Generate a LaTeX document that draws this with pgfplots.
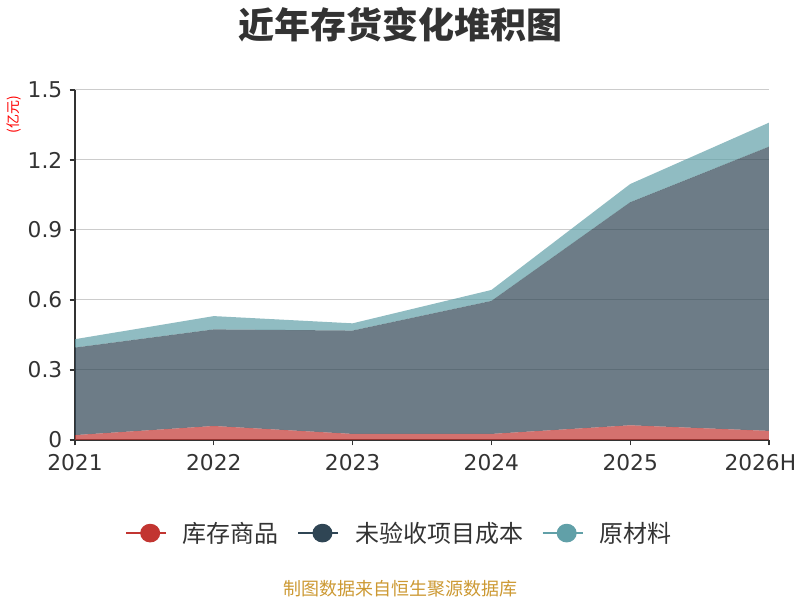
\documentclass[border=0pt]{standalone}
\usepackage{pgfplots}
\pgfplotsset{compat=1.18}
\usepackage{fontspec}
\setmainfont{Noto Sans CJK SC}
\newfontfamily\tickfont{DejaVu Sans}
\definecolor{c1}{HTML}{C23531}
\definecolor{c2}{HTML}{2F4554}
\definecolor{c3}{HTML}{61A0A8}
\definecolor{txt}{HTML}{333333}
\definecolor{foot}{HTML}{CC9933}
\begin{document}
\begin{tikzpicture}
\path[use as bounding box] (0pt,0pt) rectangle (600pt,450pt);
\begin{axis}[
  at={(56.25pt,120pt)}, anchor=south west, scale only axis,
  width=520.5pt, height=262.5pt,
  xmin=0, xmax=5, ymin=0, ymax=1.5,
  xtick={0,1,2,3,4,5},
  xticklabels={2021,2022,2023,2024,2025,\kern-13pt 2026H},
  ytick={0,0.3,0.6,0.9,1.2,1.5},
  yticklabels={0,0.3,0.6,0.9,1.2,1.5},
  axis x line*=bottom, axis y line*=left,
  axis line style={draw=txt, line width=0.9pt, -},
  tick align=outside, major tick length=4pt,
  tick style={draw=txt, line width=0.9pt},
  ymajorgrids, grid style={draw=black!20, line width=0.75pt},
  /pgf/number format/assume math mode=true,
  ticklabel style={font=\tickfont\fontsize{16.3}{16.3}\selectfont, text=txt},
  xticklabel style={yshift=-3.5pt},
  yticklabel style={xshift=-2pt},
  stack plots=y,
  legend columns=3,
  legend style={at={(0.468,-0.266)}, anchor=center, draw=none, fill=none,
    font=\fontsize{18}{18}\selectfont, text=txt,
    /tikz/every odd column/.append style={column sep=10pt},
    /tikz/every even column/.append style={column sep=12pt}},
  legend cell align=left,
]
\addplot[draw=none, fill=c1, fill opacity=0.7,
  legend image code/.code={\draw[c1, line width=1.2pt, draw opacity=1] (0pt,0pt) -- (30pt,0pt); \fill[c1, fill opacity=1] (18pt,0pt) ellipse (7.5pt and 7pt);}]
  coordinates {(0,0.021) (1,0.060) (2,0.026) (3,0.026) (4,0.063) (5,0.039)} \closedcycle;
\addlegendentry{库存商品}
\addplot[draw=none, fill=c2, fill opacity=0.7,
  legend image code/.code={\draw[c2, line width=1.2pt, draw opacity=1] (0pt,0pt) -- (30pt,0pt); \fill[c2, fill opacity=1] (18pt,0pt) ellipse (7.5pt and 7pt);}]
  coordinates {(0,0.375) (1,0.414) (2,0.443) (3,0.570) (4,0.956) (5,1.218)} \closedcycle;
\addlegendentry{未验收项目成本}
\addplot[draw=none, fill=c3, fill opacity=0.7,
  legend image code/.code={\draw[c3, line width=1.2pt, draw opacity=1] (0pt,0pt) -- (30pt,0pt); \fill[c3, fill opacity=1] (18pt,0pt) ellipse (7.5pt and 7pt);}]
  coordinates {(0,0.036) (1,0.057) (2,0.031) (3,0.047) (4,0.078) (5,0.103)} \closedcycle;
\addlegendentry{原材料}
\end{axis}
\node[font=\bfseries\fontsize{27}{27}\selectfont, text=txt] at (300pt,431.25pt) {近年存货变化堆积图};
\node[font=\fontsize{10.5}{10.5}\selectfont, text=red, rotate=90] at (10.5pt,363.75pt) {(亿元)};
\node[font=\fontsize{13.5}{13.5}\selectfont, text=foot] at (300pt,8.25pt) {制图数据来自恒生聚源数据库};
\end{tikzpicture}
\end{document}
